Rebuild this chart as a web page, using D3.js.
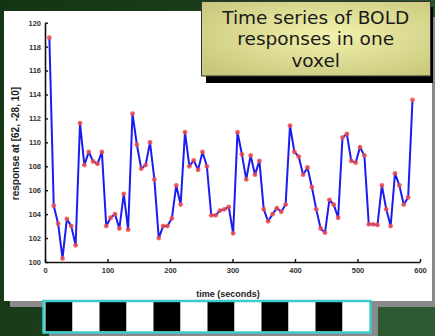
<!DOCTYPE html>
<html>
<head>
<meta charset="utf-8">
<script src="https://cdn.jsdelivr.net/npm/d3@7"></script>
<style>
  html, body { margin: 0; padding: 0; width: 435px; height: 336px; overflow: hidden; }
  svg { display: block; }
  .tick text { font-family: "Liberation Sans", Arial, sans-serif; font-weight: bold; font-size: 7.5px; fill: #333; }
</style>
</head>
<body>
<svg id="chart" width="435" height="336"></svg>
<script>
// sample times (s) and BOLD response
const times = [7, 14, 21, 28, 35, 42, 49, 56, 63, 70, 77, 84, 91, 98, 105, 112, 119, 126, 133, 140,
  147, 154, 161, 168, 175, 182, 189, 196, 203, 210, 217, 224, 231, 238, 245, 252, 259, 266, 273, 280,
  287, 294, 301, 308, 315, 322, 329, 336, 343, 350, 357, 364, 371, 378, 385, 392, 399, 406, 413, 420,
  427, 434, 441, 448, 455, 462, 469, 476, 483, 490, 497, 504, 511, 518, 525, 532, 539, 546, 553, 560,
  567, 574, 581, 588];
const response = [118.75, 104.7, 103.2, 100.3, 103.6, 103.0, 101.4, 111.6, 108.1, 109.2,
  108.4, 108.2, 109.2, 103.0, 103.7, 104.0, 102.8, 105.7, 102.7, 112.4,
  109.8, 107.8, 108.1, 110.0, 106.9, 102.0, 103.0, 103.0, 103.65, 106.4,
  104.8, 110.85, 108.0, 108.5, 107.7, 109.2, 108.0, 103.9, 103.9, 104.3,
  104.4, 104.6, 102.4, 110.85, 109.0, 106.9, 108.9, 107.3, 108.45, 104.4,
  103.4, 104.0, 104.5, 104.2, 104.8, 111.4, 109.2, 108.8, 107.3, 107.9,
  106.25, 104.4, 102.8, 102.45, 105.2, 104.8, 103.7, 110.4, 110.7, 108.45,
  108.3, 109.6, 108.9, 103.15, 103.15, 103.1, 106.4, 104.4, 103.0, 107.4,
  106.4, 104.8, 105.4, 113.55];
const xTicks = [0, 100, 200, 300, 400, 500, 600];
const yTicks = [100, 102, 104, 106, 108, 110, 112, 114, 116, 118, 120];
const stimulus = ["on", "off", "on", "off", "on", "off", "on", "off", "on", "off", "on", "off"];
const titleLines = ["Time series of BOLD", "responses in one", "voxel"];

const svg = d3.select("#chart");
const defs = svg.append("defs");

const bg = defs.append("linearGradient").attr("id", "bg")
  .attr("x1", 0).attr("y1", 0).attr("x2", 1).attr("y2", 0.4);
bg.append("stop").attr("offset", 0).attr("stop-color", "#133513");
bg.append("stop").attr("offset", 0.5).attr("stop-color", "#1a3f1c");
bg.append("stop").attr("offset", 1).attr("stop-color", "#2e5a33");

const box = defs.append("radialGradient").attr("id", "box")
  .attr("cx", 0.55).attr("cy", 0.45).attr("r", 0.7);
box.append("stop").attr("offset", 0).attr("stop-color", "#f2f2ac");
box.append("stop").attr("offset", 1).attr("stop-color", "#c8c67c");

defs.append("filter").attr("id", "soft")
  .append("feGaussianBlur").attr("stdDeviation", 0.6);

svg.append("rect").attr("width", 435).attr("height", 336).attr("fill", "url(#bg)");

// white panel with its gray shadow
svg.append("rect").attr("x", 10).attr("y", 17).attr("width", 427).attr("height", 290).attr("fill", "#8a8a8a");
svg.append("rect").attr("x", 4).attr("y", 11).attr("width", 428).attr("height", 290).attr("fill", "#fff");

// plot
const x = d3.scaleLinear().domain([0, 600]).range([45, 420]);
const y = d3.scaleLinear().domain([100, 120]).range([262, 22.7]);

const line = d3.line().x((d, i) => x(times[i])).y(d => y(d));
svg.append("path")
  .datum(response)
  .attr("d", line)
  .attr("fill", "none")
  .attr("stroke", "#1c1cf0")
  .attr("stroke-width", 2)
  .attr("stroke-linejoin", "round");

svg.append("g")
  .selectAll("circle")
  .data(response)
  .join("circle")
  .attr("cx", (d, i) => x(times[i]))
  .attr("cy", d => y(d))
  .attr("r", 2.4)
  .attr("fill", "#f04a4a")
  .attr("opacity", 0.85);

const xAxis = svg.append("g")
  .attr("transform", "translate(0,262)")
  .call(d3.axisBottom(x).tickValues(xTicks).tickSizeInner(-3).tickSizeOuter(0).tickPadding(6));
const yAxis = svg.append("g")
  .attr("transform", "translate(45,0)")
  .call(d3.axisLeft(y).tickValues(yTicks).tickSizeInner(-3).tickSizeOuter(0).tickPadding(4));
[xAxis, yAxis].forEach(a => {
  a.select(".domain").attr("stroke", "#111").attr("stroke-width", 1.6);
  a.selectAll(".tick line").attr("stroke", "#111").attr("stroke-width", 1.4);
});

svg.append("text")
  .attr("x", 228).attr("y", 297)
  .attr("text-anchor", "middle")
  .style("font-family", "Liberation Sans, Arial, sans-serif")
  .style("font-weight", "bold").style("font-size", "9px").style("fill", "#222")
  .text("time (seconds)");

svg.append("text")
  .attr("transform", "translate(18.5,143.5) rotate(-90)")
  .attr("text-anchor", "middle")
  .style("font-family", "Liberation Sans, Arial, sans-serif")
  .style("font-weight", "bold").style("font-size", "10px").style("fill", "#222")
  .text("response at [62, -28, 10]");

// stimulus bar
const sb = d3.scaleBand().domain(d3.range(stimulus.length)).range([45.5, 369.5]);
svg.append("rect").attr("x", 49).attr("y", 307).attr("width", 329).attr("height", 32).attr("fill", "#8a8a8a");
svg.append("rect").attr("x", 43.5).attr("y", 301).attr("width", 327).attr("height", 31.5).attr("fill", "#fff");
svg.append("g").attr("filter", "url(#soft)")
  .selectAll("rect")
  .data(stimulus)
  .join("rect")
  .attr("x", (d, i) => sb(i))
  .attr("y", 302)
  .attr("width", sb.bandwidth())
  .attr("height", 29.5)
  .attr("fill", d => d === "on" ? "#000" : "#fff");
svg.append("rect").attr("x", 43.5).attr("y", 301).attr("width", 327).attr("height", 31.5)
  .attr("fill", "none").attr("stroke", "#3ccccc").attr("stroke-width", 2.5);

// title box
svg.append("rect").attr("x", 206).attr("y", 7).attr("width", 227).attr("height", 76).attr("fill", "#000");
svg.append("rect").attr("x", 201.5).attr("y", 1.5).attr("width", 229).attr("height", 74.5)
  .attr("fill", "url(#box)").attr("stroke", "#333").attr("stroke-width", 1);
svg.append("g")
  .selectAll("text")
  .data(titleLines)
  .join("text")
  .attr("x", 315.7)
  .attr("y", (d, i) => 24 + i * 21.3)
  .attr("text-anchor", "middle")
  .style("font-family", "DejaVu Sans, Verdana, sans-serif")
  .style("font-size", "18.5px")
  .style("fill", "#1a1a1a")
  .text(d => d);
</script>
</body>
</html>
